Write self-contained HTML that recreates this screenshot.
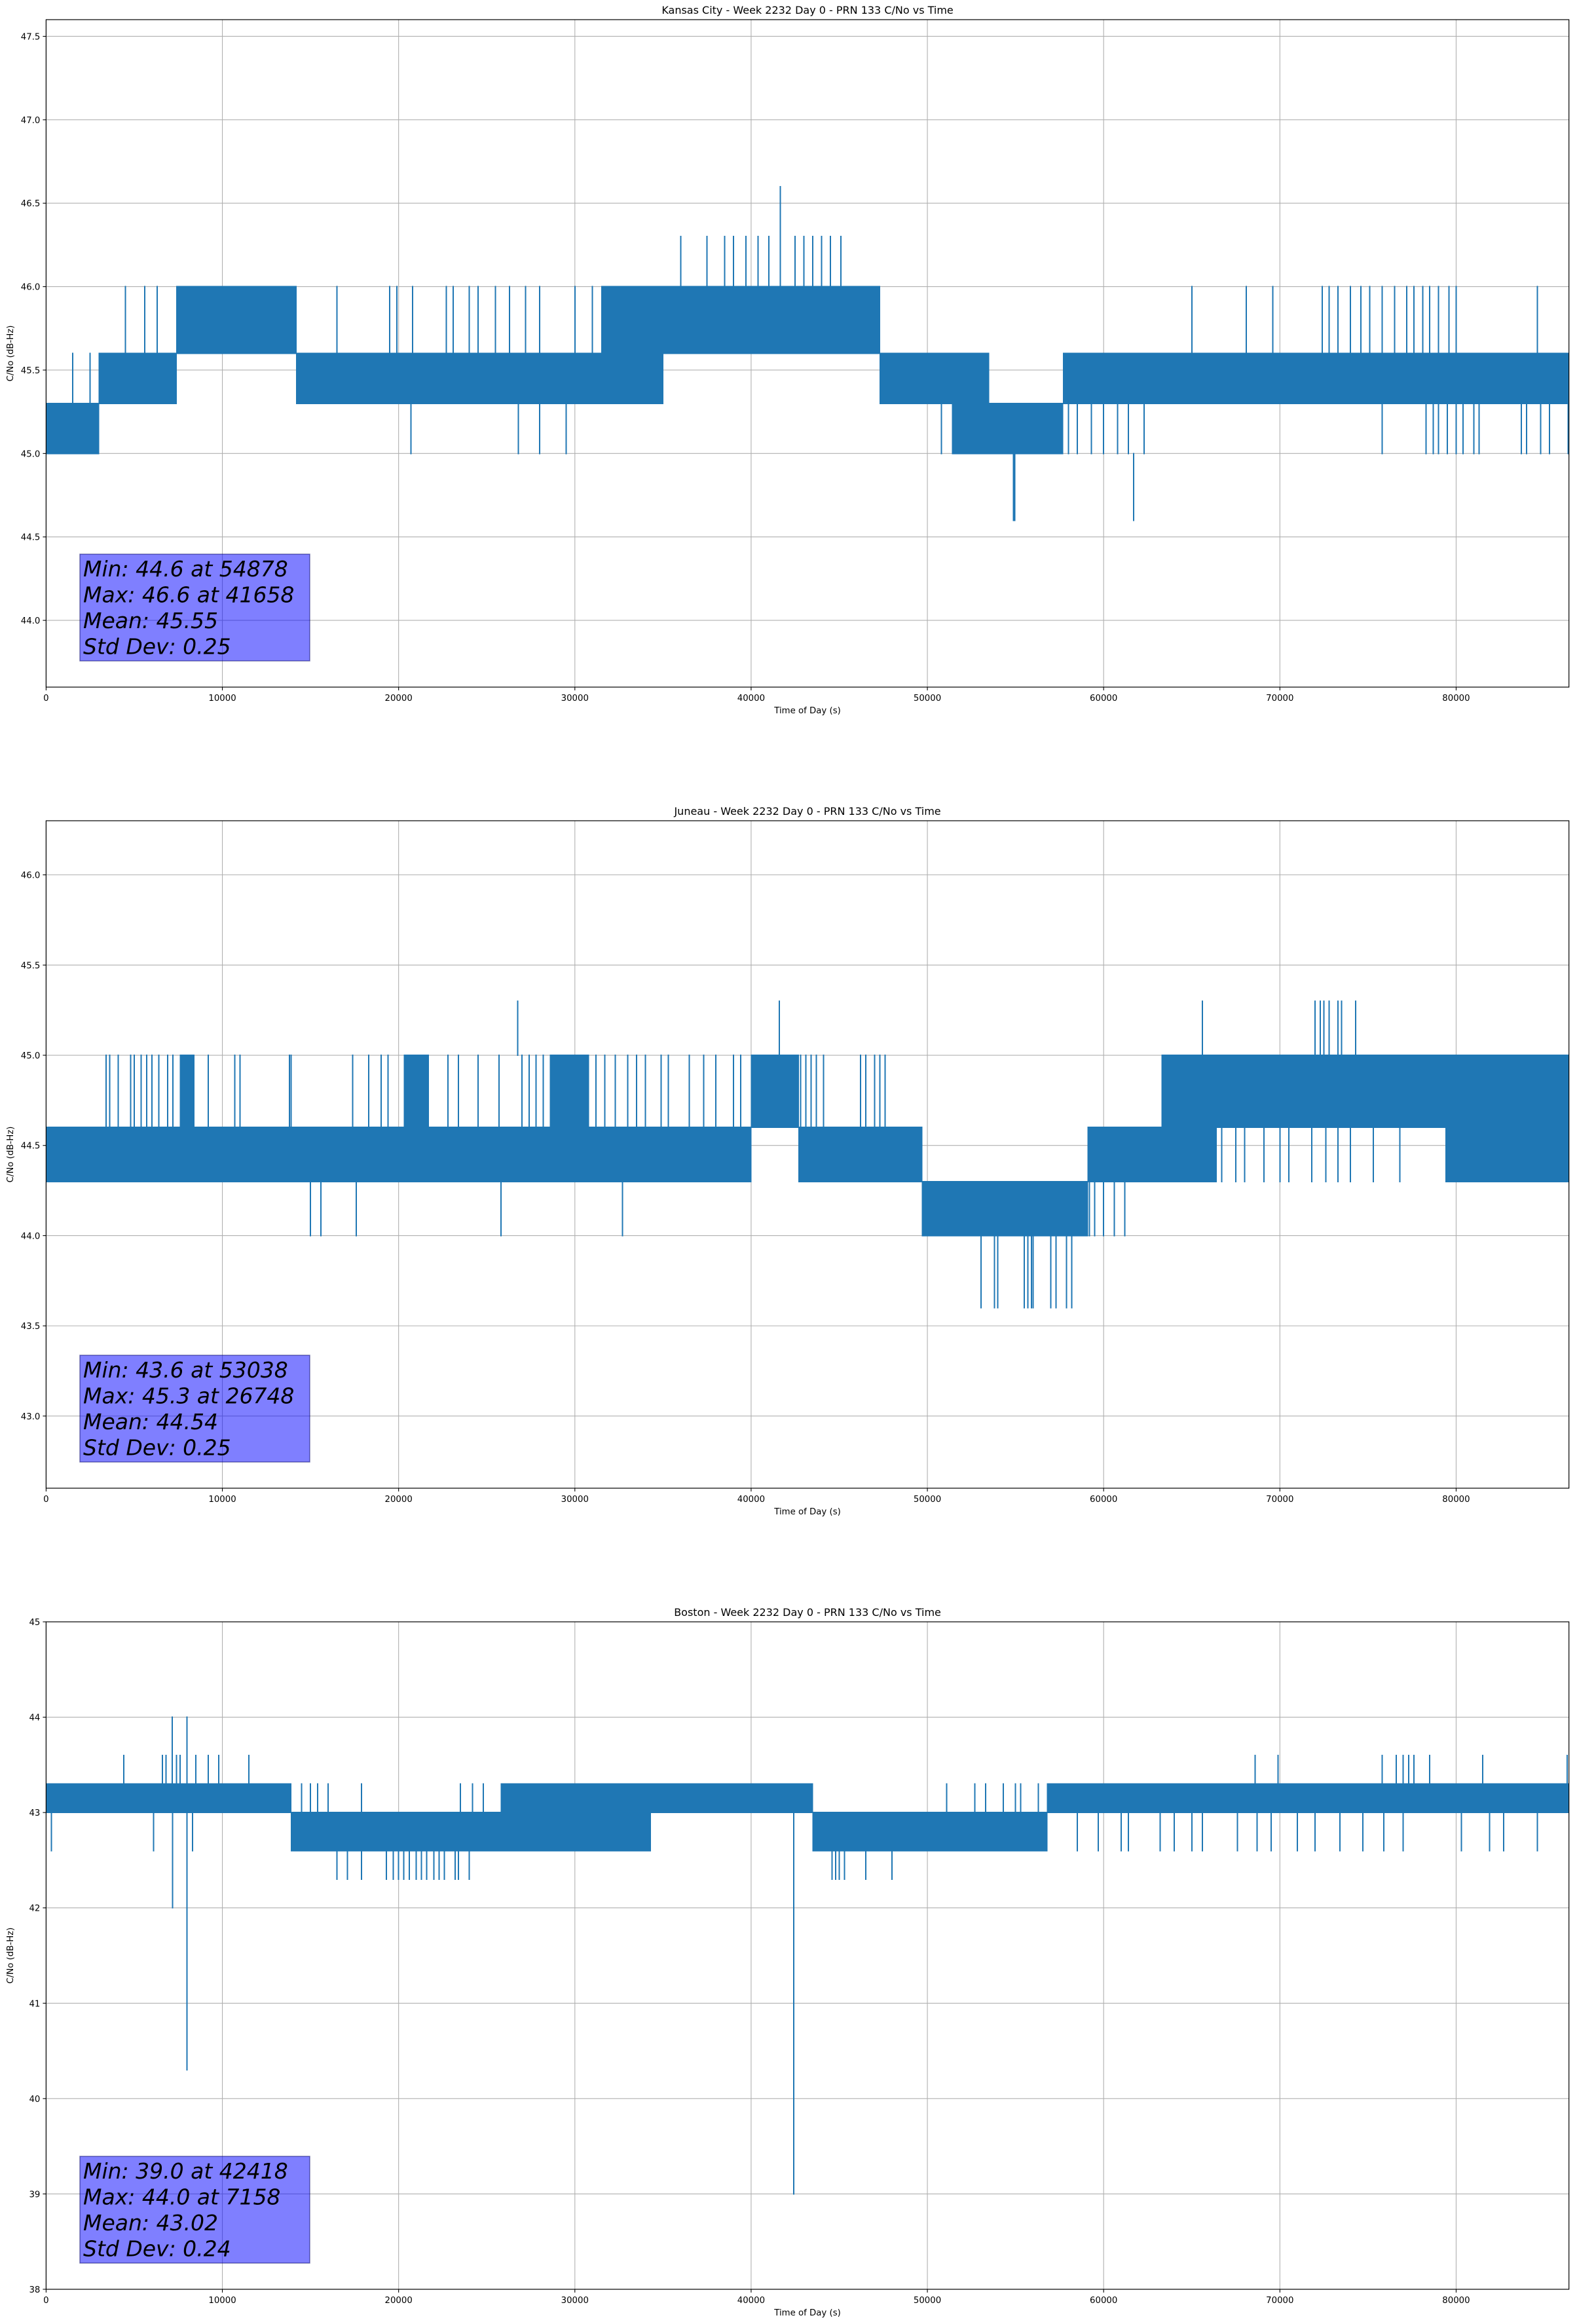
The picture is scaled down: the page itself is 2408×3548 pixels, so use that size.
<!DOCTYPE html>
<html><head><meta charset="utf-8"><title>PRN 133 C/No vs Time</title>
<style>
html,body{margin:0;padding:0;background:#fff;}
svg{display:block;}
text{font-family:"DejaVu Sans","Liberation Sans",sans-serif;fill:#000;}
</style></head>
<body>
<svg id="fig" xmlns="http://www.w3.org/2000/svg" width="2408" height="3548" viewBox="0 0 2408 3548"></svg>
<script>
// ---------- Kansas City ----------
const kcTitle = "Kansas City - Week 2232 Day 0 - PRN 133 C/No vs Time";
const kcYTicks = [44.0, 44.5, 45.0, 45.5, 46.0, 46.5, 47.0, 47.5];
const kcYRange = [43.6, 47.6];
const kcBlockStart = [0, 3000, 7400, 14200, 22800, 31500, 35000, 47300, 51400, 53500, 57700, 62900];
const kcBlockEnd   = [3000, 7400, 14200, 22800, 31500, 35000, 47300, 51400, 53500, 57700, 62900, 86400];
const kcBlockLow   = [45.0, 45.3, 45.6, 45.3, 45.3, 45.3, 45.6, 45.3, 45.0, 45.0, 45.3, 45.3];
const kcBlockHigh  = [45.3, 45.6, 46.0, 45.6, 45.6, 46.0, 46.0, 45.6, 45.6, 45.3, 45.6, 45.6];
const kcSpikeT  = [4500,5600,6300,16500,19500,19900,20800,22700,23100,24000,24500,25500,26300,27200,28000,30000,31000,
  20700,26800,28000,29500,
  36000,37500,38500,39000,39700,40400,41000,41658,42500,43000,43500,44000,44500,45100,
  50800,51700,52300,53000,58000,58500,59300,60000,60800,61400,62300,54878,54950,61700,
  65000,68100,69600,72400,72800,73300,74000,74600,75100,75800,76500,77200,77600,78100,78500,79000,79600,80000,84600,
  75800,78300,78700,79000,79500,80000,80400,81000,81300,83700,84000,84800,85300,86350,1500,2500];
const kcSpikeLo = [45.3,45.3,45.3,45.3,45.3,45.3,45.3,45.3,45.3,45.3,45.3,45.3,45.3,45.3,45.3,45.3,45.3,
  45.0,45.0,45.0,45.0,
  45.6,45.6,45.6,45.6,45.6,45.6,45.6,45.6,45.6,45.6,45.6,45.6,45.6,45.6,
  45.0,45.0,45.0,45.0,45.0,45.0,45.0,45.0,45.0,45.0,45.0,44.6,44.6,44.6,
  45.3,45.3,45.3,45.3,45.3,45.3,45.3,45.3,45.3,45.3,45.3,45.3,45.3,45.3,45.3,45.3,45.3,45.3,45.3,
  45.0,45.0,45.0,45.0,45.0,45.0,45.0,45.0,45.0,45.0,45.0,45.0,45.0,45.0,45.0,45.0];
const kcSpikeHi = [46.0,46.0,46.0,46.0,46.0,46.0,46.0,46.0,46.0,46.0,46.0,46.0,46.0,46.0,46.0,46.0,46.0,
  45.3,45.3,45.3,45.3,
  46.3,46.3,46.3,46.3,46.3,46.3,46.3,46.6,46.3,46.3,46.3,46.3,46.3,46.3,
  45.3,45.3,45.3,45.3,45.3,45.3,45.3,45.3,45.3,45.3,45.3,45.0,45.0,45.0,
  46.0,46.0,46.0,46.0,46.0,46.0,46.0,46.0,46.0,46.0,46.0,46.0,46.0,46.0,46.0,46.0,46.0,46.0,46.0,
  45.3,45.3,45.3,45.3,45.3,45.3,45.3,45.3,45.3,45.3,45.3,45.3,45.3,45.3,45.6,45.6];
const kcStats = ["Min: 44.6 at 54878", "Max: 46.6 at 41658", "Mean: 45.55", "Std Dev: 0.25"];

// ---------- Juneau ----------
const jnTitle = "Juneau - Week 2232 Day 0 - PRN 133 C/No vs Time";
const jnYTicks = [43.0, 43.5, 44.0, 44.5, 45.0, 45.5, 46.0];
const jnYRange = [42.6, 46.3];
const jnBlockStart = [0, 3000, 7600, 8400, 20300, 21700, 28600, 30800, 40000, 42700, 46900, 49700, 52300, 59100, 63300, 66400, 79400];
const jnBlockEnd   = [3000, 7600, 8400, 20300, 21700, 28600, 30800, 40000, 42700, 46900, 49700, 52300, 59100, 63300, 66400, 79400, 86400];
const jnBlockLow   = [44.3, 44.3, 44.3, 44.3, 44.3, 44.3, 44.3, 44.3, 44.6, 44.3, 44.3, 44.0, 44.0, 44.3, 44.3, 44.6, 44.3];
const jnBlockHigh  = [44.6, 44.6, 45.0, 44.6, 45.0, 44.6, 45.0, 44.6, 45.0, 44.6, 44.6, 44.3, 44.3, 44.6, 45.0, 45.0, 45.0];
const jnSpikeT  = [3400,3600,4100,4800,5000,5400,5700,6000,6400,6900,7200,9200,10700,11000,13800,13900,17400,18300,19000,19400,
  22800,23400,24500,25700,27000,27400,27800,28200,31200,31700,32300,33000,33500,34000,34900,35300,36500,37300,38000,39000,39400,
  42800,43100,43400,43700,44100,46200,46500,47000,47300,47600,
  26748,41600,
  15000,15600,17600,25800,32700,
  53038,53800,54000,55500,55700,55900,56000,57000,57300,57900,58200,
  59200,59500,60000,60600,61200,
  65600,72000,72300,72500,72800,73300,73500,74300,
  66700,67500,68000,69100,70000,70500,71800,72600,73300,74000,75300,76800];
const jnSpikeLo = [44.6,44.6,44.6,44.6,44.6,44.6,44.6,44.6,44.6,44.6,44.6,44.6,44.6,44.6,44.6,44.6,44.6,44.6,44.6,44.6,
  44.6,44.6,44.6,44.6,44.6,44.6,44.6,44.6,44.6,44.6,44.6,44.6,44.6,44.6,44.6,44.6,44.6,44.6,44.6,44.6,44.6,
  44.6,44.6,44.6,44.6,44.6,44.6,44.6,44.6,44.6,44.6,
  45.0,45.0,
  44.0,44.0,44.0,44.0,44.0,
  43.6,43.6,43.6,43.6,43.6,43.6,43.6,43.6,43.6,43.6,43.6,
  44.0,44.0,44.0,44.0,44.0,
  45.0,45.0,45.0,45.0,45.0,45.0,45.0,45.0,
  44.3,44.3,44.3,44.3,44.3,44.3,44.3,44.3,44.3,44.3,44.3,44.3];
const jnSpikeHi = [45.0,45.0,45.0,45.0,45.0,45.0,45.0,45.0,45.0,45.0,45.0,45.0,45.0,45.0,45.0,45.0,45.0,45.0,45.0,45.0,
  45.0,45.0,45.0,45.0,45.0,45.0,45.0,45.0,45.0,45.0,45.0,45.0,45.0,45.0,45.0,45.0,45.0,45.0,45.0,45.0,45.0,
  45.0,45.0,45.0,45.0,45.0,45.0,45.0,45.0,45.0,45.0,
  45.3,45.3,
  44.3,44.3,44.3,44.3,44.3,
  44.0,44.0,44.0,44.0,44.0,44.0,44.0,44.0,44.0,44.0,44.0,
  44.3,44.3,44.3,44.3,44.3,
  45.3,45.3,45.3,45.3,45.3,45.3,45.3,45.3,
  44.6,44.6,44.6,44.6,44.6,44.6,44.6,44.6,44.6,44.6,44.6,44.6];
const jnStats = ["Min: 43.6 at 53038", "Max: 45.3 at 26748", "Mean: 44.54", "Std Dev: 0.25"];

// ---------- Boston ----------
const bsTitle = "Boston - Week 2232 Day 0 - PRN 133 C/No vs Time";
const bsYTicks = [38, 39, 40, 41, 42, 43, 44, 45];
const bsYRange = [38, 45];
const bsBlockStart = [0, 13900, 25800, 34300, 42700, 43500, 56800];
const bsBlockEnd   = [13900, 25800, 34300, 42700, 43500, 56800, 86400];
const bsBlockLow   = [43.0, 42.6, 42.6, 43.0, 43.0, 42.6, 43.0];
const bsBlockHigh  = [43.3, 43.0, 43.3, 43.3, 43.3, 43.0, 43.3];
const bsSpikeT  = [4400,6600,6800,7400,7600,8500,9200,9800,11500,
  7158,8000,7170,8000,42418,
  300,6100,8300,
  16500,17100,17900,19300,19700,20000,20300,20600,21000,21300,21600,22000,22300,22600,23200,23400,24000,
  13300,14500,15000,15400,16000,17900,23500,24200,24800,
  44600,44800,45000,45300,46500,48000,
  51100,52700,53300,54300,55000,55300,56300,
  58500,59700,61000,61400,63200,64000,65000,65600,67600,68700,69500,71000,72000,73400,74700,75900,77000,80300,81900,82700,84600,
  68600,69900,75800,76600,77000,77300,77600,78500,81500,86300];
const bsSpikeLo = [43.3,43.3,43.3,43.3,43.3,43.3,43.3,43.3,43.3,
  43.3,43.3,42.0,40.3,39.0,
  42.6,42.6,42.6,
  42.3,42.3,42.3,42.3,42.3,42.3,42.3,42.3,42.3,42.3,42.3,42.3,42.3,42.3,42.3,42.3,42.3,
  43.0,43.0,43.0,43.0,43.0,43.0,43.0,43.0,43.0,
  42.3,42.3,42.3,42.3,42.3,42.3,
  43.0,43.0,43.0,43.0,43.0,43.0,43.0,
  42.6,42.6,42.6,42.6,42.6,42.6,42.6,42.6,42.6,42.6,42.6,42.6,42.6,42.6,42.6,42.6,42.6,42.6,42.6,42.6,42.6,
  43.3,43.3,43.3,43.3,43.3,43.3,43.3,43.3,43.3,43.3];
const bsSpikeHi = [43.6,43.6,43.6,43.6,43.6,43.6,43.6,43.6,43.6,
  44.0,44.0,43.0,43.0,43.3,
  43.0,43.0,43.0,
  42.6,42.6,42.6,42.6,42.6,42.6,42.6,42.6,42.6,42.6,42.6,42.6,42.6,42.6,42.6,42.6,42.6,
  43.3,43.3,43.3,43.3,43.3,43.3,43.3,43.3,43.3,
  42.6,42.6,42.6,42.6,42.6,42.6,
  43.3,43.3,43.3,43.3,43.3,43.3,43.3,
  43.0,43.0,43.0,43.0,43.0,43.0,43.0,43.0,43.0,43.0,43.0,43.0,43.0,43.0,43.0,43.0,43.0,43.0,43.0,43.0,43.0,
  43.6,43.6,43.6,43.6,43.6,43.6,43.6,43.6,43.6,43.6];
const bsStats = ["Min: 39.0 at 42418", "Max: 44.0 at 7158", "Mean: 43.02", "Std Dev: 0.24"];

const xTicks = [0, 10000, 20000, 30000, 40000, 50000, 60000, 70000, 80000];
const xRange = [0, 86400];

const NS = "http://www.w3.org/2000/svg";
const svg = document.getElementById("fig");
const LEFT = 70.4, RIGHT = 2395.7, PH = 1019;
const BLUE = "#1f77b4";

function mk(tag, attrs, parent) {
  const e = document.createElementNS(NS, tag);
  for (const k in attrs) e.setAttribute(k, attrs[k]);
  parent.appendChild(e);
  return e;
}
function xScale(t) { return LEFT + (t - xRange[0]) / (xRange[1] - xRange[0]) * (RIGHT - LEFT); }

function drawPlot(idx, top, title, yRange, yTicks, decimals, bS, bE, bL, bH, sT, sL, sH, stats) {
  const yScale = v => top + (yRange[1] - v) / (yRange[1] - yRange[0]) * PH;
  const bottom = top + PH;
  const g = mk("g", {}, svg);
  
  

  const grid = mk("g", {stroke: "#b0b0b0", "stroke-width": 1.1}, g);
  
  
  xTicks.forEach(t => {
    const x = xScale(t);
    const l = mk("line", {x1: x, x2: x, y1: top, y2: bottom}, grid);
    
    
  });
  yTicks.forEach(v => {
    const y = yScale(v);
    const l = mk("line", {x1: LEFT, x2: RIGHT, y1: y, y2: y}, grid);
    
    
  });

  const clipId = "clip" + idx;
  const cp = mk("clipPath", {id: clipId}, g);
  mk("rect", {x: LEFT, y: top, width: RIGHT - LEFT, height: PH}, cp);
  const data = mk("g", {"clip-path": "url(#" + clipId + ")", "shape-rendering": "crispEdges"}, g);
  
  
  for (let i = 0; i < bS.length; i++) {
    const x1 = xScale(bS[i]), x2 = xScale(bE[i]);
    const y1 = yScale(bH[i]), y2 = yScale(bL[i]);
    const r = mk("rect", {x: x1 - 0.4, y: y1 - 1, width: x2 - x1 + 0.8, height: y2 - y1 + 2, fill: BLUE}, data);
    
    
  }
  for (let i = 0; i < sT.length; i++) {
    const x = xScale(sT[i]);
    const l = mk("line", {x1: x, x2: x, y1: yScale(sH[i]) - 1, y2: yScale(sL[i]) + 1, stroke: BLUE, "stroke-width": 2}, data);
    
    
  }

  const sp = mk("rect", {x: LEFT, y: top, width: RIGHT - LEFT, height: PH, fill: "none", stroke: "#000", "stroke-width": 1.2}, g);
  
  

  xTicks.forEach(t => {
    const x = xScale(t);
    mk("line", {x1: x, x2: x, y1: bottom, y2: bottom + 5, stroke: "#000", "stroke-width": 1.1}, g);
    const tx = mk("text", {x: x, y: bottom + 21, "font-size": 13.3, "text-anchor": "middle"}, g);
    tx.textContent = String(t);
    
    
  });
  yTicks.forEach(v => {
    const y = yScale(v);
    mk("line", {x1: LEFT - 5, x2: LEFT, y1: y, y2: y, stroke: "#000", "stroke-width": 1.1}, g);
    const tx = mk("text", {x: LEFT - 9, y: y + 5, "font-size": 13.3, "text-anchor": "end"}, g);
    tx.textContent = v.toFixed(decimals);
    
    
  });

  const ti = mk("text", {x: (LEFT + RIGHT) / 2, y: top - 9, "font-size": 16, "text-anchor": "middle"}, g);
  ti.textContent = title;
  
  

  const xl = mk("text", {x: (LEFT + RIGHT) / 2, y: bottom + 40, "font-size": 13.3, "text-anchor": "middle"}, g);
  xl.textContent = "Time of Day (s)";
  
  

  const cy = top + PH / 2;
  const yl = mk("text", {x: 20, y: cy, "font-size": 13.3, "text-anchor": "middle", transform: "rotate(-90 20 " + cy + ")"}, g);
  yl.textContent = "C/No (dB-Hz)";
  
  

  const boxTop = bottom - 40 - 163;
  const bg = mk("g", {}, g);
  
  
  mk("rect", {x: 122, y: boxTop, width: 351, height: 163, fill: "rgba(0,0,255,0.5)", stroke: "rgba(0,0,100,0.5)", "stroke-width": 1.5}, bg);
  stats.forEach((s, i) => {
    const tx = mk("text", {x: 127, y: boxTop + 34 + i * 39.5, "font-size": 33, "font-style": "italic"}, bg);
    tx.textContent = s;
    
    
  });
}

drawPlot(1, 30, kcTitle, kcYRange, kcYTicks, 1, kcBlockStart, kcBlockEnd, kcBlockLow, kcBlockHigh, kcSpikeT, kcSpikeLo, kcSpikeHi, kcStats);
drawPlot(2, 1253, jnTitle, jnYRange, jnYTicks, 1, jnBlockStart, jnBlockEnd, jnBlockLow, jnBlockHigh, jnSpikeT, jnSpikeLo, jnSpikeHi, jnStats);
drawPlot(3, 2476, bsTitle, bsYRange, bsYTicks, 0, bsBlockStart, bsBlockEnd, bsBlockLow, bsBlockHigh, bsSpikeT, bsSpikeLo, bsSpikeHi, bsStats);
</script>
</body></html>
